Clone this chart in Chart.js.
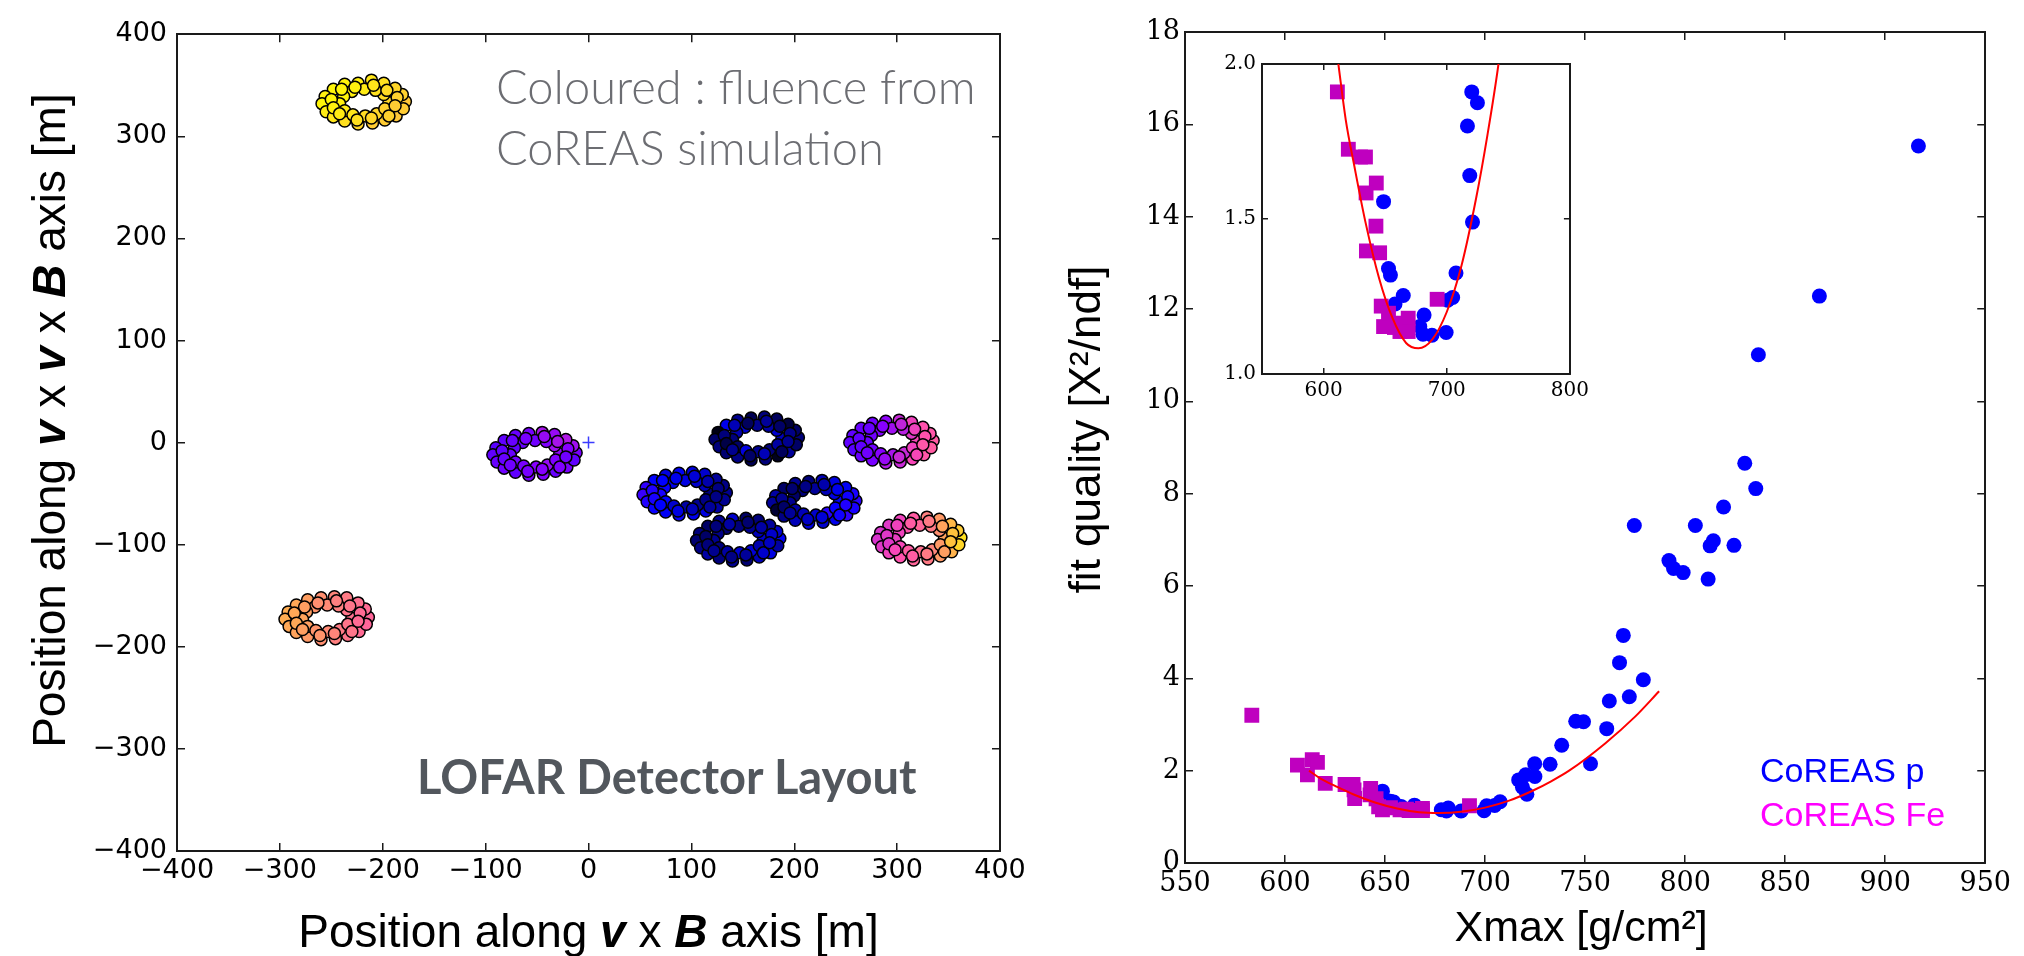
<!DOCTYPE html>
<html>
<head>
<meta charset="utf-8">
<script src="https://cdn.jsdelivr.net/npm/chart.js@4.4.1/dist/chart.umd.min.js"></script>
<style>
  html, body { margin: 0; padding: 0; background: #fff; }
  #stage { position: relative; width: 2024px; height: 956px; overflow: hidden; background: #fff; }
  #stage canvas { position: absolute; }
  .label { position: absolute; white-space: nowrap; }
</style>
</head>
<body>
<div id="stage">
  <canvas id="layout" width="1060" height="956" style="left:0;top:0;width:1060px;height:956px"></canvas>
  <canvas id="quality" width="1014" height="956" style="left:1010px;top:0;width:1014px;height:956px"></canvas>
  <canvas id="zoom" width="400" height="380" style="left:1200px;top:40px;width:400px;height:380px"></canvas>

  <div class="label" style="left:496px;top:56px;font:300 47px Lato, sans-serif;line-height:61px;color:#6c6d72">Coloured : fluence from<br>CoREAS simulation</div>
  <div class="label" style="left:417px;top:749px;font:700 47px Lato, sans-serif;line-height:54px;color:#52575d">LOFAR Detector Layout</div>
  <div class="label" style="left:1760px;top:750px;font:34px 'Liberation Sans', Arial, sans-serif;line-height:40px;color:#0000ff">CoREAS p</div>
  <div class="label" style="left:1760px;top:794px;font:34px 'Liberation Sans', Arial, sans-serif;line-height:40px;color:#ff00ff">CoREAS Fe</div>
</div>

<script>
// ---------------------------------------------------------------------------
// Antenna positions in the shower plane [m] with normalised fluence (0..1)
// [position along v x B, position along v x v x B, fluence]
// ---------------------------------------------------------------------------
const station1 = [ // yellow, upper left
  [-178,334,.81],[-181,341,.83],[-188,347,.84],[-199,352,.86],[-211,355,.87],[-224,352,.89],
  [-237,351,.90],[-248,346,.90],[-256,339,.89],[-259,332,.90],[-255,324,.88],[-248,319,.87],
  [-237,315,.86],[-224,312,.84],[-210,313,.82],[-198,316,.82],[-187,320,.81],[-180,327,.82],
  [-194,333,.84],[-199,341,.85],[-207,345,.86],[-218,346,.88],[-230,344,.89],[-238,339,.90],
  [-242,332,.89],[-237,325,.88],[-229,321,.87],[-217,320,.85],[-206,322,.84],[-198,327,.83],
  [-186,338,.83],[-196,345,.85],[-209,350,.87],[-227,348,.89],[-240,346,.90],[-250,336,.90],
  [-248,328,.89],[-242,322,.88],[-225,316,.86],[-211,318,.84],[-194,320,.83],[-188,330,.82]
];
const station2 = [ // orange / pink, lower left
  [-214,-171,.62],[-217,-163,.63],[-224,-157,.64],[-235,-152,.66],[-247,-151,.68],[-260,-152,.70],
  [-273,-154,.73],[-284,-159,.75],[-292,-166,.76],[-295,-173,.76],[-291,-180,.75],[-284,-186,.74],
  [-273,-190,.72],[-260,-193,.70],[-246,-192,.67],[-234,-189,.65],[-223,-185,.63],[-216,-178,.62],
  [-230,-172,.64],[-235,-164,.65],[-243,-160,.67],[-254,-159,.69],[-266,-161,.71],[-274,-166,.73],
  [-278,-173,.74],[-273,-180,.73],[-265,-184,.71],[-253,-185,.69],[-242,-183,.66],[-234,-178,.65],
  [-222,-167,.63],[-232,-160,.65],[-245,-155,.67],[-263,-157,.70],[-276,-161,.73],[-286,-167,.75],
  [-284,-177,.75],[-278,-183,.73],[-261,-189,.71],[-247,-187,.68],[-230,-185,.65],[-224,-175,.63]
];
const station3 = [ // purple, next to the shower core
  [-12,-10,.40],[-15,-3,.45],[-22,3,.47],[-33,8,.44],[-45,10,.46],[-58,9,.40],
  [-71,7,.38],[-82,2,.37],[-90,-5,.36],[-93,-12,.37],[-89,-19,.38],[-82,-25,.39],
  [-71,-29,.37],[-58,-32,.40],[-44,-31,.41],[-32,-28,.38],[-21,-24,.40],[-14,-17,.37],
  [-28,-11,.43],[-33,-3,.45],[-41,1,.41],[-52,2,.39],[-64,0,.38],[-72,-5,.37],
  [-76,-12,.38],[-71,-19,.39],[-63,-23,.40],[-51,-24,.42],[-40,-22,.44],[-32,-17,.41],
  [-20,-6,.42],[-30,1,.46],[-43,6,.44],[-61,4,.40],[-74,2,.38],[-84,-8,.37],
  [-82,-16,.38],[-76,-22,.39],[-59,-28,.40],[-45,-26,.42],[-28,-24,.41],[-22,-14,.39]
];
const station4 = [ // dark blue, top of the central group
  [204,5,.12],[201,12,.10],[194,18,.06],[183,23,.09],[171,25,.12],[158,24,.08],
  [145,22,.14],[134,17,.23],[126,10,.02],[123,3,.10],[127,-4,.12],[134,-10,.11],
  [145,-14,.13],[158,-17,.08],[172,-16,.12],[184,-13,.03],[195,-9,.15],[202,-2,.10],
  [188,4,.18],[183,12,.20],[175,16,.16],[164,17,.14],[152,15,.20],[144,10,.17],
  [140,3,.12],[145,-4,.10],[153,-8,.22],[165,-9,.14],[176,-7,.12],[184,-2,.16],
  [196,9,.13],[186,16,.10],[173,21,.15],[155,19,.09],[142,17,.18],[132,7,.12],
  [134,-1,.07],[140,-7,.14],[157,-13,.10],[171,-11,.18],[188,-9,.09],[194,1,.14]
];
const station5 = [ // blue, left of the central group
  [134,-49,.14],[131,-42,.13],[124,-36,.15],[113,-31,.20],[101,-29,.22],[88,-30,.24],
  [75,-32,.22],[64,-37,.25],[56,-44,.31],[53,-51,.32],[57,-58,.29],[64,-64,.26],
  [75,-68,.24],[88,-71,.26],[102,-70,.23],[114,-67,.22],[125,-63,.16],[132,-56,.14],
  [118,-50,.12],[113,-42,.18],[105,-38,.20],[94,-37,.22],[82,-39,.23],[74,-44,.26],
  [70,-51,.28],[75,-58,.25],[83,-62,.20],[95,-63,.16],[106,-61,.14],[114,-56,.13],
  [126,-45,.13],[116,-38,.17],[103,-33,.21],[85,-35,.23],[72,-37,.25],[62,-47,.29],
  [64,-55,.28],[70,-61,.25],[87,-67,.22],[101,-65,.18],[118,-63,.15],[124,-53,.13]
];
const station6 = [ // blue, bottom of the central group
  [186,-94,.24],[183,-87,.20],[176,-81,.15],[165,-76,.12],[153,-74,.10],[140,-75,.20],
  [127,-77,.14],[116,-82,.10],[108,-89,.12],[105,-96,.11],[109,-103,.13],[116,-109,.16],
  [127,-113,.12],[140,-116,.14],[154,-115,.11],[166,-112,.18],[177,-108,.22],[184,-101,.16],
  [170,-95,.20],[165,-87,.18],[157,-83,.14],[146,-82,.12],[134,-84,.11],[126,-89,.13],
  [122,-96,.14],[127,-103,.12],[135,-107,.16],[147,-108,.20],[158,-106,.21],[166,-101,.17],
  [178,-90,.20],[168,-83,.16],[155,-78,.11],[137,-80,.16],[124,-82,.12],[114,-92,.10],
  [116,-100,.12],[122,-106,.14],[139,-112,.13],[153,-110,.15],[170,-108,.20],[176,-98,.19]
];
const station7 = [ // blue, right of the central group
  [260,-57,.30],[257,-50,.28],[250,-44,.24],[239,-39,.22],[227,-37,.18],[214,-38,.12],
  [201,-40,.14],[190,-45,.10],[182,-52,.16],[179,-59,.15],[183,-66,.05],[190,-72,.13],
  [201,-76,.18],[214,-79,.22],[228,-78,.20],[240,-75,.23],[251,-71,.31],[258,-64,.28],
  [244,-58,.25],[239,-50,.22],[231,-46,.18],[220,-45,.15],[208,-47,.12],[200,-52,.10],
  [196,-59,.14],[201,-66,.16],[209,-70,.18],[221,-71,.20],[232,-69,.30],[240,-64,.26],
  [252,-53,.27],[242,-46,.23],[229,-41,.17],[211,-43,.13],[198,-45,.11],[188,-55,.14],
  [190,-63,.10],[196,-69,.15],[213,-75,.19],[227,-73,.21],[244,-71,.27],[250,-61,.29]
];
const station8 = [ // purple / pink, right
  [335,2,.60],[332,9,.59],[325,15,.58],[314,20,.55],[302,22,.50],[289,21,.43],
  [276,19,.39],[265,14,.38],[257,7,.37],[254,0,.37],[258,-7,.36],[265,-13,.38],
  [276,-17,.40],[289,-20,.47],[303,-19,.50],[315,-16,.56],[326,-12,.59],[333,-5,.60],
  [319,1,.56],[314,9,.53],[306,13,.48],[295,14,.45],[283,12,.41],[275,7,.39],
  [271,0,.38],[276,-7,.39],[284,-11,.42],[296,-12,.46],[307,-10,.50],[315,-5,.55],
  [327,6,.58],[317,13,.55],[304,18,.49],[286,16,.42],[273,14,.38],[263,4,.37],
  [265,-4,.37],[271,-10,.39],[288,-16,.44],[302,-14,.50],[319,-12,.56],[325,-2,.59]
];
const station9 = [ // pink / orange, lower right
  [362,-93,.86],[359,-86,.82],[352,-80,.78],[341,-75,.72],[329,-73,.67],[316,-74,.60],
  [303,-76,.55],[292,-81,.53],[284,-88,.52],[281,-95,.52],[285,-102,.53],[292,-108,.55],
  [303,-112,.58],[316,-115,.62],[330,-114,.66],[342,-111,.72],[353,-107,.77],[360,-100,.84],
  [346,-94,.74],[341,-86,.70],[333,-82,.66],[322,-81,.62],[310,-83,.58],[302,-88,.55],
  [298,-95,.54],[303,-102,.56],[311,-106,.60],[323,-107,.64],[334,-105,.68],[342,-100,.72],
  [354,-89,.80],[344,-82,.74],[331,-77,.66],[313,-79,.60],[300,-81,.55],[290,-91,.53],
  [292,-99,.53],[298,-105,.56],[315,-111,.60],[329,-109,.66],[346,-107,.73],[352,-97,.80]
];
const stations = [station1, station2, station3, station4, station5, station6, station7, station8, station9];
const showerCore = [[0, 0]];
const layoutTicks = [-400, -300, -200, -100, 0, 100, 200, 300, 400];

// ---------------------------------------------------------------------------
// Fit quality versus Xmax for the simulated showers
// ---------------------------------------------------------------------------
const protonXmax = [916.6, 867.1, 836.6, 829.8, 835.3, 819.2, 805.1, 774.6, 814.1, 812.5, 824.4,
  791.9, 794.2, 799.0, 811.5, 769.1, 767.2, 779.1, 762.1, 772.1, 745.3, 749.2, 760.8, 738.3,
  732.5, 752.7, 724.8, 720.3, 724.9, 716.8, 718.7, 720.9, 648.7, 652.7, 654.3, 707.5, 704.8,
  700.8, 664.7, 658.0, 681.6, 678.1, 680.7, 688.0, 699.5];
const protonChi2 = [15.53, 12.28, 11.01, 8.66, 8.11, 7.71, 7.31, 7.31, 6.98, 6.87, 6.88,
  6.55, 6.38, 6.29, 6.15, 4.93, 4.34, 3.97, 3.51, 3.60, 3.07, 3.06, 2.91, 2.55,
  2.14, 2.15, 2.15, 1.91, 1.875, 1.80, 1.64, 1.49, 1.556, 1.34, 1.319, 1.326, 1.247,
  1.238, 1.253, 1.226, 1.19, 1.153, 1.128, 1.125, 1.134];
const ironXmax = [583.4, 606.2, 613.6, 616.2, 611.2, 620.1, 630.0, 634.0, 642.8, 634.5, 642.5,
  634.8, 645.5, 646.8, 648.7, 652.7, 660.7, 668.7, 662.0, 668.7, 657.5, 692.2];
const ironChi2 = [3.20, 2.12, 2.24, 2.18, 1.91, 1.725, 1.70, 1.70, 1.616, 1.584, 1.477,
  1.397, 1.391, 1.219, 1.153, 1.196, 1.164, 1.18, 1.137, 1.137, 1.15, 1.241];
// parabolic fit through both compositions
const fitXmax = [612, 618, 625, 634, 645, 656, 667, 677, 688, 700, 712, 724, 733, 742, 760, 775, 787];
const fitChi2 = [2.00, 1.82, 1.67, 1.49, 1.31, 1.18, 1.10, 1.083, 1.11, 1.20, 1.35, 1.57, 1.77, 2.00, 2.59, 3.17, 3.72];
const xmaxTicks = [550, 600, 650, 700, 750, 800, 850, 900, 950];
const chi2Ticks = [0, 2, 4, 6, 8, 10, 12, 14, 16, 18];
const zoomXTicks = [600, 700, 800];
const zoomYTicks = [1.0, 1.5, 2.0];

// ---------------------------------------------------------------------------
Chart.defaults.animation = false;
Chart.defaults.responsive = false;
Chart.defaults.devicePixelRatio = 1;
Chart.defaults.events = [];
Chart.defaults.plugins.legend.display = false;
Chart.defaults.plugins.tooltip.enabled = false;

const INK = '#1a1a1a';

// matplotlib "gnuplot2" colour map
function gnuplot2(t) {
  const c = v => Math.round(255 * Math.min(1, Math.max(0, v)));
  const r = t / 0.32 - 0.78125;
  const g = 2 * t - 0.84;
  let b;
  if (t < 0.25) b = 4 * t;
  else if (t < 0.42) b = 1;
  else if (t < 0.92) b = -2 * t + 1.84;
  else b = t / 0.08 - 11.5;
  return `rgb(${c(r)},${c(g)},${c(b)})`;
}

// frame axis: inward ticks on every side, fixed box size so the plot area is exact
function frameScale(o) {
  return {
    type: 'linear', axis: o.axis, position: o.position, min: o.min, max: o.max,
    afterBuildTicks: s => { s.ticks = o.ticks.map(v => ({ value: v })); },
    afterFit: s => { if (o.axis === 'x') s.height = o.size; else s.width = o.size; },
    ticks: {
      display: !!o.font, font: o.font, color: '#000', padding: o.pad || 0,
      autoSkip: false, maxRotation: 0, minRotation: 0,
      callback: o.format || (() => '')
    },
    grid: { display: true, drawOnChartArea: false, drawTicks: true, tickLength: -o.tick, color: INK, lineWidth: 1.5 },
    border: { display: true, color: INK, width: 2 },
    title: { display: false }
  };
}

const signed = v => (v < 0 ? '\u2212' + Math.abs(v) : String(v));
const toXY = (xs, ys) => xs.map((x, i) => ({ x, y: ys[i] }));

// axis titles drawn next to their scale; a title may mix plain and bold-italic runs
function axisTitles(titles) {
  return {
    id: 'axisTitles',
    afterDraw(chart) {
      const ctx = chart.ctx, area = chart.chartArea;
      titles.forEach(t => {
        const scale = chart.scales[t.scale];
        const fonts = t.parts.map(p => `${p[1]} ${t.size}px "Liberation Sans", Arial, sans-serif`.trim());
        ctx.save();
        let total = 0;
        const widths = t.parts.map((p, i) => { ctx.font = fonts[i]; const w = ctx.measureText(p[0]).width; total += w; return w; });
        if (scale.isHorizontal()) {
          ctx.translate((area.left + area.right) / 2 + (t.shift || 0), scale.bottom - t.offset);
        } else {
          ctx.translate(scale.left + t.offset, (area.top + area.bottom) / 2 + (t.shift || 0));
          ctx.rotate(-Math.PI / 2);
        }
        ctx.fillStyle = '#000';
        ctx.textBaseline = 'middle';
        ctx.textAlign = 'left';
        let x = -total / 2;
        t.parts.forEach((p, i) => { ctx.font = fonts[i]; ctx.fillText(p[0], x, 0); x += widths[i]; });
        ctx.restore();
      });
    }
  };
}

// ----------------------------- detector layout -----------------------------
const layoutFont = { family: 'DejaVu Sans', size: 27 };
new Chart(document.getElementById('layout'), {
  type: 'scatter',
  data: {
    datasets: [
      ...stations.map(st => ({
        data: st.map(p => ({ x: p[0], y: p[1], f: p[2] })),
        pointRadius: 6,
        pointBackgroundColor: c => gnuplot2(c.raw.f),
        pointBorderColor: '#000',
        pointBorderWidth: 1.5
      })),
      {
        data: showerCore.map(p => ({ x: p[0], y: p[1] })),
        pointStyle: 'cross', pointRadius: 6,
        pointBorderColor: '#3b3bff', pointBorderWidth: 1.5,
        order: -1
      }
    ]
  },
  options: {
    layout: { padding: { left: 0, top: 0, right: 30, bottom: 0 } },
    scales: {
      x: frameScale({ axis: 'x', position: 'bottom', min: -400, max: 400, ticks: layoutTicks, size: 105, tick: 8, font: layoutFont, pad: 12, format: signed }),
      xTop: frameScale({ axis: 'x', position: 'top', min: -400, max: 400, ticks: layoutTicks, size: 26, tick: 8 }),
      y: frameScale({ axis: 'y', position: 'left', min: -400, max: 400, ticks: layoutTicks, size: 177, tick: 8, font: layoutFont, pad: 18, format: signed }),
      yRight: frameScale({ axis: 'y', position: 'right', min: -400, max: 400, ticks: layoutTicks, size: 30, tick: 8 })
    }
  },
  plugins: [axisTitles([
    { scale: 'x', size: 46, offset: 22,
      parts: [['Position along ', ''], ['v', 'italic bold'], [' x ', ''], ['B', 'italic bold'], [' axis [m]', '']] },
    { scale: 'y', size: 46, offset: 52, shift: -22,
      parts: [['Position along ', ''], ['v', 'italic bold'], [' x ', ''], ['v', 'italic bold'], [' x ', ''],
              ['B', 'italic bold'], [' axis [m]', '']] }
  ])]
});

// ------------------------------- fit quality -------------------------------
const qualityFont = { family: 'DejaVu Serif', size: 27 };
function qualityDatasets() {
  return [
    {
      type: 'line', data: toXY(fitXmax, fitChi2),
      borderColor: '#ff0000', borderWidth: 2, pointRadius: 0,
      cubicInterpolationMode: 'monotone', fill: false, order: 0, clip: 0
    },
    {
      data: toXY(ironXmax, ironChi2), pointStyle: 'rect', pointRadius: 10.5,
      pointBackgroundColor: '#bf00bf', pointBorderWidth: 0, order: 1
    },
    {
      data: toXY(protonXmax, protonChi2), pointStyle: 'circle', pointRadius: 7.5,
      pointBackgroundColor: '#0000ff', pointBorderWidth: 0, order: 2
    }
  ];
}

new Chart(document.getElementById('quality'), {
  type: 'scatter',
  data: { datasets: qualityDatasets() },
  options: {
    layout: { padding: 0 },
    scales: {
      x: frameScale({ axis: 'x', position: 'bottom', min: 550, max: 950, ticks: xmaxTicks, size: 93, tick: 8, font: qualityFont, pad: 13, format: v => String(v) }),
      xTop: frameScale({ axis: 'x', position: 'top', min: 550, max: 950, ticks: xmaxTicks, size: 32, tick: 8 }),
      y: frameScale({ axis: 'y', position: 'left', min: 0, max: 18, ticks: chi2Ticks, size: 175, tick: 8, font: qualityFont, pad: 13, format: v => String(v) }),
      yRight: frameScale({ axis: 'y', position: 'right', min: 0, max: 18, ticks: chi2Ticks, size: 34, tick: 8 })
    }
  },
  plugins: [axisTitles([
    { scale: 'x', size: 43, offset: 27, shift: -4, parts: [['Xmax [g/cm\u00b2]', '']] },
    { scale: 'y', size: 44, offset: 78, shift: -18, parts: [['fit quality [X\u00b2/ndf]', '']] }
  ])]
});

// ------------------------------ zoomed inset -------------------------------
const zoomFont = { family: 'DejaVu Serif', size: 20 };
new Chart(document.getElementById('zoom'), {
  type: 'scatter',
  data: { datasets: qualityDatasets() },
  options: {
    layout: { padding: 0 },
    scales: {
      x: frameScale({ axis: 'x', position: 'bottom', min: 550, max: 800, ticks: zoomXTicks, size: 46, tick: 6, font: zoomFont, pad: 11, format: v => String(v) }),
      xTop: frameScale({ axis: 'x', position: 'top', min: 550, max: 800, ticks: zoomXTicks, size: 23, tick: 6 }),
      y: frameScale({ axis: 'y', position: 'left', min: 1.0, max: 2.0, ticks: zoomYTicks, size: 62, tick: 6, font: zoomFont, pad: 12, format: v => v.toFixed(1) }),
      yRight: frameScale({ axis: 'y', position: 'right', min: 1.0, max: 2.0, ticks: zoomYTicks, size: 26, tick: 6 })
    }
  }
});
</script>
</body>
</html>
